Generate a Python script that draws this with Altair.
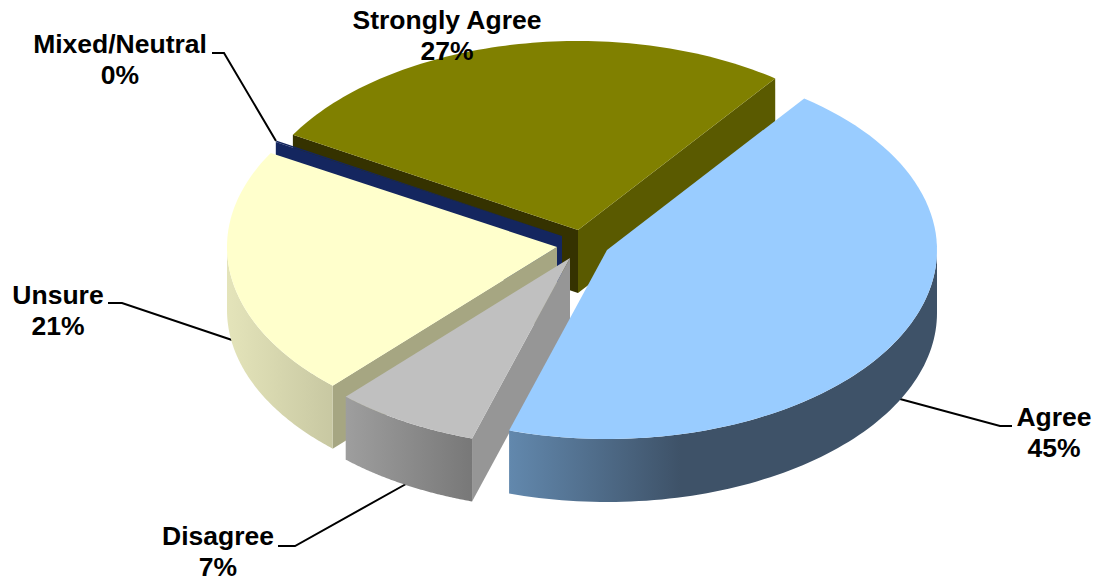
import math
import altair as alt

# Survey shares, clockwise from the first slice
categories = ["Agree", "Disagree", "Unsure", "Mixed/Neutral", "Strongly Agree"]
shares = [44.6, 7.1, 21.4, 0.1, 26.8]

top_colors = ["#99ccff", "#c0c0c0", "#ffffcc", "#14265f", "#808000"]

# Tilted-pie geometry, in page pixels
RX, RY, DEPTH = 330, 189, 63
START_DEG = 36.7
apexes = {
    "Agree": (607, 250),
    "Disagree": (570, 258),
    "Unsure": (557, 247),
    "Mixed/Neutral": (562, 236),
    "Strongly Agree": (578, 230),
}

# Leader lines and label anchors
leaders = {
    "Agree": [(900, 399), (1000, 426), (1012, 426)],
    "Disagree": [(406, 484), (295, 546), (278, 546)],
    "Unsure": [(232, 340), (122, 303), (108, 303)],
    "Mixed/Neutral": [(276, 141), (224, 53), (212, 53)],
}
label_anchors = {
    "Agree": (1054, 418),
    "Disagree": (218, 537),
    "Unsure": (58, 296),
    "Mixed/Neutral": (120, 45),
    "Strongly Agree": (447, 21),
}
LINE_HEIGHT = 30.5


def rim(name, deg, drop=0):
    ax, ay = apexes[name]
    t = math.radians(deg)
    return [ax + RX * math.sin(t), ay - RY * math.cos(t) + drop]


def arc(name, a, b, drop=0, steps=80):
    return [rim(name, a + (b - a) * i / steps, drop) for i in range(steps + 1)]


def feature(kind, coords):
    geometry = {"type": kind, "coordinates": coords}
    return {"type": "Feature", "properties": {}, "geometry": geometry}


PROJECTION = dict(type="identity", scale=1, translate=[0, 0])


def polygon(points, fill):
    ring = points + [points[0]]
    return (
        alt.Chart(alt.Data(values=[feature("Polygon", [ring])]))
        .mark_geoshape(fill=fill, stroke=None, strokeWidth=0)
        .project(**PROJECTION)
    )


def shaded(stops):
    return alt.LinearGradient(
        gradient="linear",
        x1=0, x2=1, y1=0, y2=0,
        stops=[alt.GradientStop(offset=o, color=c) for o, c in stops],
    )


def top_face(name, a, b, fill):
    return polygon([list(apexes[name])] + arc(name, a, b), fill)


def radial_wall(name, deg, fill):
    ax, ay = apexes[name]
    r0, r1 = rim(name, deg), rim(name, deg, DEPTH)
    return polygon([[ax, ay], r0, r1, [ax, ay + DEPTH]], fill)


def outer_wall(name, a, b, fill):
    lo, hi = max(a, 90), min(b, 270)
    return polygon(arc(name, lo, hi) + arc(name, hi, lo, DEPTH), fill)


# Slice boundaries from the shares
total = sum(shares)
bounds = {}
angle = START_DEG
for cat, share in zip(categories, shares):
    bounds[cat] = (angle, angle + share / total * 360)
    angle = bounds[cat][1]
colors = dict(zip(categories, top_colors))

layers = []

for pts in leaders.values():
    layers.append(
        alt.Chart(alt.Data(values=[feature("LineString", [list(p) for p in pts])]))
        .mark_geoshape(filled=False, stroke="black", strokeWidth=2)
        .project(**PROJECTION)
    )

# Back to front: each slice paints its walls, then its top
a, b = bounds["Strongly Agree"]
layers += [
    radial_wall("Strongly Agree", a, "#353200"),
    radial_wall("Strongly Agree", b, "#5a5a00"),
    top_face("Strongly Agree", a, b, colors["Strongly Agree"]),
]
a, b = bounds["Mixed/Neutral"]
layers += [
    radial_wall("Mixed/Neutral", a, colors["Mixed/Neutral"]),
    top_face("Mixed/Neutral", a, b, colors["Mixed/Neutral"]),
]
a, b = bounds["Unsure"]
layers += [
    radial_wall("Unsure", a, "#a6a682"),
    outer_wall("Unsure", a, b, shaded([(0, "#e4e4ba"), (1, "#c8c8a2")])),
    top_face("Unsure", a, b, colors["Unsure"]),
]
a, b = bounds["Disagree"]
layers += [
    radial_wall("Disagree", a, "#969696"),
    outer_wall("Disagree", a, b, shaded([(0, "#9e9e9e"), (1, "#787878")])),
    top_face("Disagree", a, b, colors["Disagree"]),
]
a, b = bounds["Agree"]
layers += [
    outer_wall("Agree", a, b, shaded([(0, "#6288ad"), (0.4, "#3e5268"), (1, "#3e5268")])),
    top_face("Agree", a, b, colors["Agree"]),
]

# Name and rounded percentage, one row each
label_rows = []
for cat, share in zip(categories, shares):
    x, y = label_anchors[cat]
    label_rows.append({"x": x, "y": y, "text": cat})
    label_rows.append({"x": x, "y": y + LINE_HEIGHT, "text": f"{round(share)}%"})

labels = (
    alt.Chart(alt.Data(values=label_rows))
    .mark_text(font="Liberation Sans", fontWeight="bold", fontSize=26.5, color="black", align="center", baseline="middle")
    .encode(
        x=alt.X("x:Q", axis=None, scale=alt.Scale(domain=[0, 1095], range=[0, 1095])),
        y=alt.Y("y:Q", axis=None, scale=alt.Scale(domain=[0, 580], range=[0, 580])),
        text="text:N",
    )
)

chart = (
    alt.layer(*layers, labels)
    .resolve_scale(x="shared", y="shared")
    .properties(width=1095, height=580, padding=0, autosize=alt.AutoSizeParams(type="none"), background="white")
    .configure_view(stroke=None)
)

chart.save("out.html", embed_options={"renderer": "svg", "actions": False})
